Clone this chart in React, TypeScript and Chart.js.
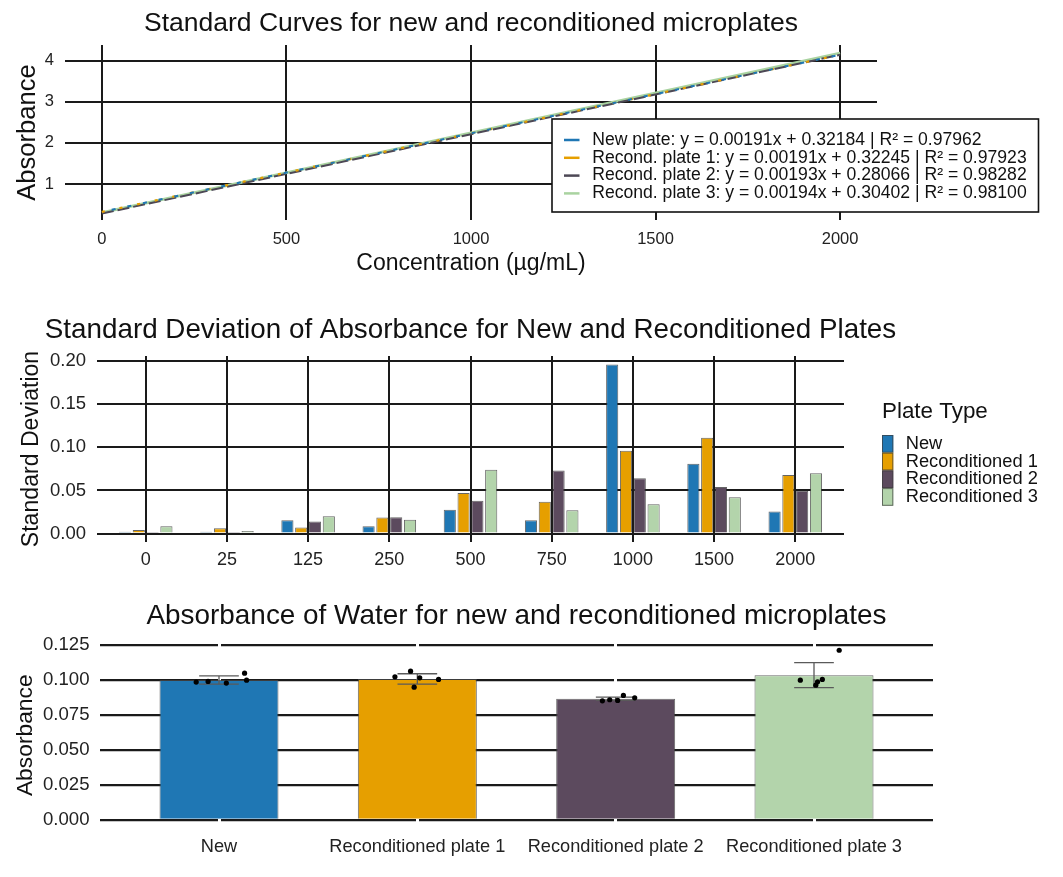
import React, { useEffect, useRef } from 'react';
import { Chart, registerables } from 'chart.js';

Chart.register(...registerables);

const FONT = "'Liberation Sans', Arial, Helvetica, sans-serif";

// --- standard curves (top) ---
const fitConcentrations = [0, 2000];
const newPlateFit = [0.322, 4.142];
const recond1Fit = [0.322, 4.142];
const recond2Fit = [0.281, 4.141];
const recond3Fit = [0.304, 4.184];
const fitLabels = [
  'New plate: y = 0.00191x + 0.32184 | R² = 0.97962',
  'Recond. plate 1: y = 0.00191x + 0.32245 | R² = 0.97923',
  'Recond. plate 2: y = 0.00193x + 0.28066 | R² = 0.98282',
  'Recond. plate 3: y = 0.00194x + 0.30402 | R² = 0.98100',
];
const curveXTicks = [0, 500, 1000, 1500, 2000];
const curveYTicks = [1, 2, 3, 4];

// --- standard deviation (middle) ---
const concentrations = ['0', '25', '125', '250', '500', '750', '1000', '1500', '2000'];
const sdNew = [0.002, 0.002, 0.0155, 0.0085, 0.0275, 0.0155, 0.196, 0.081, 0.0255];
const sdRecond1 = [0.004, 0.006, 0.007, 0.0186, 0.047, 0.037, 0.096, 0.111, 0.068];
const sdRecond2 = [0.0005, 0.0005, 0.014, 0.019, 0.038, 0.073, 0.064, 0.054, 0.0495];
const sdRecond3 = [0.0085, 0.003, 0.02, 0.016, 0.074, 0.027, 0.034, 0.042, 0.07];
const sdTicks = [0, 0.05, 0.1, 0.15, 0.2];
const plateTypes = ['New', 'Reconditioned 1', 'Reconditioned 2', 'Reconditioned 3'];

// --- water absorbance (bottom) ---
const waterPlates = ['New', 'Reconditioned plate 1', 'Reconditioned plate 2', 'Reconditioned plate 3'];
const waterMean = [0.1001, 0.1009, 0.0867, 0.1036];
const waterSd = [0.0029, 0.0037, 0.0012, 0.009];
const waterReplicates = [
  [0.0986, 0.0991, 0.0979, 0.105, 0.1],
  [0.1024, 0.1064, 0.095, 0.1017, 0.1005],
  [0.0852, 0.086, 0.0855, 0.0891, 0.0874],
  [0.1, 0.0964, 0.0988, 0.1005, 0.1214],
];
const waterJitter = [
  [-0.115, -0.055, 0.037, 0.129, 0.139],
  [-0.113, -0.034, -0.016, 0.012, 0.107],
  [-0.067, -0.03, 0.01, 0.039, 0.096],
  [-0.069, 0.009, 0.018, 0.042, 0.127],
];
const waterTicks = [0, 0.025, 0.05, 0.075, 0.1, 0.125];

const plateColors = ['#1f77b4', '#e69f00', '#5c4a5e', '#b3d4ab'];
const GRID = '#1a1a1a';

const plotTitle = {
  id: 'plotTitle',
  afterDraw(chart: any, _args: any, opts: any) {
    if (!opts || !opts.text) return;
    const { ctx, chartArea } = chart;
    ctx.save();
    ctx.font = `${opts.size}px ${FONT}`;
    ctx.fillStyle = '#111';
    ctx.textAlign = 'center';
    ctx.textBaseline = 'alphabetic';
    ctx.fillText(opts.text, (chartArea.left + chartArea.right) / 2, opts.baseline);
    ctx.restore();
  },
};

const lineLegend = {
  id: 'lineLegend',
  afterDraw(chart: any, _args: any, opts: any) {
    if (!opts || !opts.box) return;
    const { ctx } = chart;
    const [x0, y0, x1, y1] = opts.box;
    ctx.save();
    ctx.fillStyle = '#fff';
    ctx.fillRect(x0, y0, x1 - x0, y1 - y0);
    ctx.strokeStyle = '#111';
    ctx.lineWidth = 1.6;
    ctx.strokeRect(x0, y0, x1 - x0, y1 - y0);
    ctx.font = `${opts.size}px ${FONT}`;
    ctx.textBaseline = 'middle';
    ctx.textAlign = 'left';
    chart.data.datasets.forEach((ds: any, i: number) => {
      const cy = opts.firstRow + i * opts.rowGap;
      ctx.strokeStyle = ds.borderColor;
      ctx.lineWidth = 2.5;
      ctx.beginPath();
      ctx.moveTo(opts.keyX[0], cy);
      ctx.lineTo(opts.keyX[1], cy);
      ctx.stroke();
      ctx.fillStyle = '#111';
      ctx.fillText(ds.label, opts.textX, cy);
    });
    ctx.restore();
  },
};

const boxLegend = {
  id: 'boxLegend',
  afterDraw(chart: any, _args: any, opts: any) {
    if (!opts || !opts.title) return;
    const { ctx } = chart;
    ctx.save();
    ctx.fillStyle = '#111';
    ctx.textAlign = 'left';
    ctx.textBaseline = 'middle';
    ctx.font = `${opts.titleSize}px ${FONT}`;
    ctx.fillText(opts.title, opts.x, opts.titleY);
    ctx.font = `${opts.size}px ${FONT}`;
    chart.data.datasets.forEach((ds: any, i: number) => {
      const top = opts.top + i * opts.row;
      ctx.fillStyle = ds.backgroundColor;
      ctx.fillRect(opts.x, top, opts.keyW, opts.row);
      ctx.strokeStyle = 'rgba(60,60,60,0.7)';
      ctx.lineWidth = 1;
      ctx.strokeRect(opts.x + 0.5, top + 0.5, opts.keyW - 1, opts.row - 1);
      ctx.fillStyle = '#111';
      ctx.fillText(ds.label, opts.textX, top + opts.row / 2);
    });
    ctx.restore();
  },
};

const errorBars = {
  id: 'errorBars',
  afterDatasetDraw(chart: any, args: any) {
    if (args.index !== 0) return;
    const { ctx } = chart;
    const xs = chart.scales.x;
    const ys = chart.scales.y;
    ctx.save();
    ctx.strokeStyle = '#5a5a5a';
    ctx.lineWidth = 1.3;
    waterMean.forEach((m, i) => {
      const cx = xs.getPixelForValue(i);
      const xl = xs.getPixelForValue(i - 0.1);
      const xr = xs.getPixelForValue(i + 0.1);
      const yt = ys.getPixelForValue(m + waterSd[i]);
      const yb = ys.getPixelForValue(m - waterSd[i]);
      ctx.beginPath();
      ctx.moveTo(cx, yt);
      ctx.lineTo(cx, yb);
      ctx.moveTo(xl, yt);
      ctx.lineTo(xr, yt);
      ctx.moveTo(xl, yb);
      ctx.lineTo(xr, yb);
      ctx.stroke();
    });
    ctx.restore();
  },
};

const fixedTicks = (values: number[]) => (scale: any) => {
  scale.ticks = values.map((value) => ({ value }));
};

const tickFont = (size: number) => ({ size, family: FONT });

function curvesConfig(): any {
  const series = [newPlateFit, recond1Fit, recond2Fit, recond3Fit];
  const styles = [
    { color: '#1f77b4', dash: [4, 12], offset: 6, width: 2 },
    { color: '#e69f00', dash: [3, 15], offset: 0, width: 2.2 },
    { color: '#4d4855', dash: [12, 4], offset: 0, width: 2 },
    { color: '#a9d3a0', dash: [], offset: 0, width: 2.6 },
  ];
  return {
    type: 'line',
    data: {
      datasets: series.map((vals, i) => ({
        label: fitLabels[i],
        data: fitConcentrations.map((x, j) => ({ x, y: vals[j] })),
        borderColor: styles[i].color,
        borderWidth: styles[i].width,
        borderDash: styles[i].dash,
        borderDashOffset: styles[i].offset,
        pointRadius: 0,
        fill: false,
      })),
    },
    options: {
      responsive: false,
      animation: false,
      events: [],
      layout: { padding: { top: 45, left: 0, right: 186, bottom: 10 } },
      plugins: {
        legend: { display: false },
        tooltip: { enabled: false },
        plotTitle: { text: 'Standard Curves for new and reconditioned microplates', size: 26.5, baseline: 30.5 },
        lineLegend: {
          box: [552, 119, 1038.5, 212],
          keyX: [564, 579.5],
          textX: 592.2,
          firstRow: 140,
          rowGap: 17.8,
          size: 17.6,
        },
      },
      scales: {
        x: {
          type: 'linear',
          min: -100,
          max: 2100,
          afterBuildTicks: fixedTicks(curveXTicks),
          afterFit: (s: any) => { s.height = 60; },
          grid: { color: GRID, lineWidth: 2, drawTicks: false },
          border: { display: false },
          ticks: {
            font: tickFont(16.5),
            color: '#222',
            padding: 9.2,
            maxRotation: 0,
            autoSkip: false,
            callback: (v: number) => String(v),
          },
          title: {
            display: true,
            text: 'Concentration (µg/mL)',
            font: tickFont(23),
            color: '#111',
            padding: { top: 0, bottom: 2.7 },
          },
        },
        y: {
          type: 'linear',
          min: 0.125,
          max: 4.38,
          afterBuildTicks: fixedTicks(curveYTicks),
          afterFit: (s: any) => { s.width = 65; },
          grid: { color: GRID, lineWidth: 2, drawTicks: false },
          border: { display: false },
          ticks: { font: tickFont(16.5), color: '#222', padding: 11, callback: (v: number) => String(v) },
          title: {
            display: true,
            text: 'Absorbance',
            font: tickFont(25.6),
            color: '#111',
            padding: { top: 12.1, bottom: 0 },
          },
        },
      },
    },
    plugins: [plotTitle, lineLegend],
  };
}

function deviationConfig(): any {
  const series = [sdNew, sdRecond1, sdRecond2, sdRecond3];
  return {
    type: 'bar',
    data: {
      datasets: series.map((vals, i) => ({
        label: plateTypes[i],
        data: concentrations.map((_, j) => ({ x: j, y: vals[j] })),
        backgroundColor: plateColors[i],
        borderColor: 'rgba(50,50,50,0.75)',
        borderWidth: 1,
        categoryPercentage: 0.68,
        barPercentage: 0.88,
      })),
    },
    options: {
      responsive: false,
      animation: false,
      events: [],
      layout: { padding: { top: 66, left: 0, right: 219, bottom: 0 } },
      plugins: {
        legend: { display: false },
        tooltip: { enabled: false },
        plotTitle: {
          text: 'Standard Deviation of Absorbance for New and Reconditioned Plates',
          size: 27.8,
          baseline: 48,
        },
        boxLegend: {
          title: 'Plate Type',
          titleSize: 22.4,
          titleY: 122,
          x: 882,
          keyW: 11.3,
          top: 145,
          row: 17.7,
          textX: 905.7,
          size: 18.3,
        },
      },
      scales: {
        x: {
          type: 'linear',
          min: -0.6,
          max: 8.6,
          offset: false,
          afterBuildTicks: fixedTicks(concentrations.map((_, i) => i)),
          afterFit: (s: any) => { s.height = 38; },
          grid: { color: GRID, lineWidth: 2, drawTicks: false, offset: false },
          border: { display: false },
          ticks: {
            font: tickFont(18),
            color: '#222',
            padding: 7.2,
            maxRotation: 0,
            autoSkip: false,
            callback: (v: number) => concentrations[v],
          },
        },
        y: {
          type: 'linear',
          min: -0.0098,
          max: 0.2058,
          beginAtZero: false,
          afterBuildTicks: fixedTicks(sdTicks),
          afterFit: (s: any) => { s.width = 97; },
          grid: { color: GRID, lineWidth: 2, drawTicks: false },
          border: { display: false },
          ticks: { font: tickFont(18.5), color: '#222', padding: 11, callback: (v: number) => v.toFixed(2) },
          title: {
            display: true,
            text: 'Standard Deviation',
            font: tickFont(23.1),
            color: '#111',
            padding: { top: 17.9, bottom: 0 },
          },
        },
      },
    },
    plugins: [plotTitle, boxLegend],
  };
}

function waterConfig(): any {
  const points: { x: number; y: number }[] = [];
  waterReplicates.forEach((reps, i) => {
    reps.forEach((y, j) => points.push({ x: i + waterJitter[i][j], y }));
  });
  return {
    type: 'bar',
    data: {
      datasets: [
        {
          label: 'Mean absorbance',
          data: waterPlates.map((_, i) => ({ x: i, y: waterMean[i] })),
          backgroundColor: plateColors,
          borderColor: 'rgba(70,70,70,0.8)',
          borderWidth: 1,
          categoryPercentage: 1,
          barPercentage: 0.6,
          order: 2,
        },
        {
          type: 'scatter',
          label: 'Replicates',
          data: points,
          backgroundColor: '#000',
          borderWidth: 0,
          pointRadius: 2.6,
          order: 1,
        },
      ],
    },
    options: {
      responsive: false,
      animation: false,
      events: [],
      layout: { padding: { top: 62, left: 0, right: 130, bottom: 8.5 } },
      plugins: {
        legend: { display: false },
        tooltip: { enabled: false },
        plotTitle: {
          text: 'Absorbance of Water for new and reconditioned microplates',
          size: 27.9,
          baseline: 44,
        },
      },
      scales: {
        x: {
          type: 'linear',
          min: -0.6,
          max: 3.6,
          offset: false,
          afterBuildTicks: fixedTicks(waterPlates.map((_, i) => i)),
          afterFit: (s: any) => { s.height = 40; },
          grid: { color: '#ffffff', lineWidth: 3, drawTicks: false, offset: false, z: 0 },
          border: { display: false },
          ticks: {
            font: tickFont(18.2),
            color: '#222',
            padding: 7.7,
            maxRotation: 0,
            autoSkip: false,
            callback: (v: number) => waterPlates[v],
          },
        },
        y: {
          type: 'linear',
          min: -0.0061,
          max: 0.1273,
          beginAtZero: false,
          afterBuildTicks: fixedTicks(waterTicks),
          afterFit: (s: any) => { s.width = 100; },
          grid: { color: GRID, lineWidth: 2.2, drawTicks: false, z: -1 },
          border: { display: false },
          ticks: { font: tickFont(18.6), color: '#222', padding: 10.5, callback: (v: number) => v.toFixed(3) },
          title: {
            display: true,
            text: 'Absorbance',
            font: tickFont(22.8),
            color: '#111',
            padding: { top: 12.1, bottom: 0 },
          },
        },
      },
    },
    plugins: [plotTitle, errorBars],
  };
}

export default function App() {
  const topRef = useRef<HTMLCanvasElement>(null);
  const midRef = useRef<HTMLCanvasElement>(null);
  const botRef = useRef<HTMLCanvasElement>(null);

  useEffect(() => {
    const charts: Chart[] = [];
    if (topRef.current) charts.push(new Chart(topRef.current, curvesConfig()));
    if (midRef.current) charts.push(new Chart(midRef.current, deviationConfig()));
    if (botRef.current) charts.push(new Chart(botRef.current, waterConfig()));
    return () => {
      charts.forEach((c) => c.destroy());
    };
  }, []);

  return (
    <div style={{ position: 'absolute', left: 0, top: 0, width: 1063, height: 877, background: '#fff' }}>
      <canvas ref={topRef} width={1063} height={290} style={{ position: 'absolute', left: 0, top: 0 }} />
      <canvas ref={midRef} width={1063} height={290} style={{ position: 'absolute', left: 0, top: 290 }} />
      <canvas ref={botRef} width={1063} height={297} style={{ position: 'absolute', left: 0, top: 580 }} />
    </div>
  );
}
